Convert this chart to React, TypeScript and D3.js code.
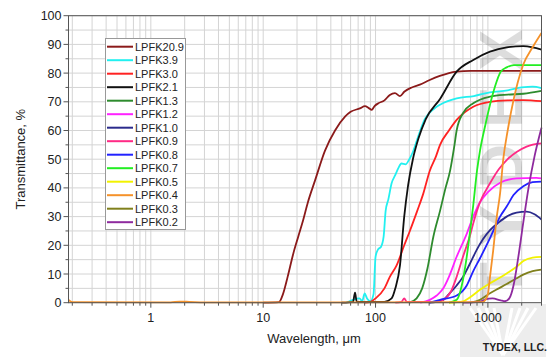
import React from "react";
import * as d3 from "d3";

const W = 554, H = 360;
const X0 = 68.5, X1 = 541.5, Y0 = 15.7, Y1 = 302.7;

const seriesNames = ["LPFK20.9","LPFK3.9","LPFK3.0","LPFK2.1","LPFK1.3","LPFK1.2","LPFK1.0","LPFK0.9","LPFK0.8","LPFK0.7","LPFK0.5","LPFK0.4","LPFK0.3","LPFK0.2"];
const seriesColors = ["#8b1a1a","#22f0f0","#ff2222","#111111","#2e8b2e","#ff22ff","#2b2b8c","#ff2a85","#2222ff","#22ee22","#f2f200","#f5922a","#80801c","#8e2a9e"];

const lpfk20_9: [number, number][] = [[10,0],[13.8,0.2],[15,3],[16.5,9],[18.5,17],[20.5,23],[22.7,28.8],[25,35],[29,42.7],[35.5,53],[43.6,60],[53.5,64.8],[60,66.5],[72.5,67.7],[80.6,68.5],[87,67.8],[92.4,67.2],[98,68.5],[106,69.5],[120,70.5],[134,72.4],[149,73],[165,72],[180,73.5],[210,75],[248,76],[300,77.5],[373,79],[450,80],[527,80.5],[700,80.8],[1000,80.8],[3000,80.8]];
const lpfk3_9: [number, number][] = [[55,0],[72,1.5],[76,0.5],[80,3.2],[84,1.5],[90,0.5],[96,3],[100,16],[105,18.5],[112,19.5],[118,23],[123,32],[130,36],[139,41.6],[150,44.5],[160,47],[170,48.5],[185,48.2],[200,50],[215,52.5],[240,58],[275,64],[330,67.5],[375,69],[527,71.2],[750,72],[1044,73.3],[1500,74],[2000,75],[2500,75.3],[3000,74.8]];
const lpfk3_0: [number, number][] = [[80,0],[90,0.3],[100,1.5],[120,5],[134,9],[154,13],[180,20],[202,25],[235,32],[266,38],[304,46],[345,51],[375,55],[450,60],[527,63.7],[741,68.3],[1044,70],[1500,70.5],[2066,70.6],[3000,70.2]];
const lpfk2_1: [number, number][] = [[50,0],[63,0.3],[65.7,3.5],[68,0.3],[120,0.3],[139,1.5],[150,5],[165,13],[180,30],[195,41],[215,50],[240,57],[280,64],[375,71],[527,80.5],[741,84.6],[1044,87.5],[1469,89],[2066,89.4],[2500,89.0],[3000,88.2]];
const lpfk1_3: [number, number][] = [[200,0],[232,1.5],[260,5],[290,12],[327,23],[375,32],[420,40],[461,46],[500,54],[527,60],[600,66],[741,69.5],[1044,71.8],[1500,72.5],[2066,72.8],[3000,73.8]];
const lpfk1_2: [number, number][] = [[250,0],[304,1],[350,2.5],[401,5],[450,9],[527,16],[648,24],[741,30],[850,35],[1000,38.5],[1283,41.8],[1800,43.3],[2700,43.5],[3000,43.3]];
const lpfk1_0: [number, number][] = [[300,0],[401,1],[450,3],[527,6],[600,9],[700,14],[795,18.4],[900,22],[1044,25.3],[1250,28],[1469,30],[1800,31.4],[2210,31.7],[2600,30.8],[3000,29]];
const lpfk0_9: [number, number][] = [[150,0],[170,0.3],[180,1.5],[190,0.3],[350,0.3],[401,1],[470,4],[527,9],[600,16],[700,24],[741,27.7],[850,35],[1044,41.6],[1250,46.5],[1469,49.7],[1800,52.5],[2210,54.4],[3000,55.5]];
const lpfk0_8: [number, number][] = [[300,0],[375,1],[527,2.5],[648,6],[741,11],[851,15.5],[1044,22.5],[1283,30],[1469,33.5],[1690,37.5],[2066,40.6],[2500,42],[3000,42.2]];
const lpfk0_7: [number, number][] = [[450,0],[527,1],[600,8],[648,16],[700,26],[741,34],[800,46],[851,53],[950,62],[1044,69],[1150,75],[1300,80.5],[1469,82],[1700,82.8],[3000,82.8]];
const lpfk0_5: [number, number][] = [[450,0],[600,0.5],[700,2],[850,4.5],[1044,6.8],[1250,8.5],[1469,10.2],[1800,12.5],[2066,14.5],[2500,15.7],[3000,16]];
const lpfk0_4: [number, number][] = [[0.185,1],[0.2,0.2],[1.5,0.1],[1.8,0.4],[2.2,0.3],[3,0.1],[900,0.2],[950,1],[1000,3],[1044,9],[1113,18],[1200,30],[1283,38],[1370,50],[1500,60],[1690,70.6],[1850,77],[2066,83],[2500,89],[3000,94]];
const lpfk0_3: [number, number][] = [[700,0],[850,1],[1044,3.3],[1250,5],[1469,6.5],[1800,8.5],[2066,9.8],[2500,11],[3000,11.5]];
const lpfk0_2: [number, number][] = [[600,0],[850,0.3],[950,1.2],[1100,1.5],[1300,0.8],[1420,0.5],[1550,1.5],[1690,6],[1850,15],[2066,28],[2300,40],[2600,51],[3000,61]];

const seriesData = [lpfk20_9, lpfk3_9, lpfk3_0, lpfk2_1, lpfk1_3, lpfk1_2, lpfk1_0, lpfk0_9, lpfk0_8, lpfk0_7, lpfk0_5, lpfk0_4, lpfk0_3, lpfk0_2];
const drawOrder = [0, 1, 2, 3, 4, 5, 6, 7, 8, 9, 10, 12, 13, 11];

const xTickLabels = [1, 10, 100, 1000];
const yTickLabels = [0, 10, 20, 30, 40, 50, 60, 70, 80, 90, 100];

export default function App() {
  const x = d3.scaleLog().domain([0.185, 3000]).range([X0, X1]);
  const y = d3.scaleLinear().domain([0, 100]).range([Y1, Y0]);
  const line = d3.line<[number, number]>().x(d => x(d[0])).y(d => y(d[1])).curve(d3.curveMonotoneX);

  const minorX: number[] = [];
  for (let e = -1; e <= 3; e++) {
    for (let m = 1; m <= 9; m++) {
      const v = m * Math.pow(10, e);
      if (v >= 0.185 && v <= 3000) minorX.push(v);
    }
  }
  const gridY = d3.range(0, 101, 5);
  const font = "'Liberation Sans', Arial, sans-serif";

  return (
    <svg width={W} height={H} style={{ position: "absolute", left: 0, top: 0, background: "#fff" }} fontFamily={font}>
      {minorX.map((v, i) => (
        <line key={"gx" + i} x1={x(v)} x2={x(v)} y1={Y0} y2={Y1} stroke="#d4d4d4" strokeWidth={1} />
      ))}
      {gridY.map((v, i) => (
        <line key={"gy" + i} x1={X0} x2={X1} y1={y(v)} y2={y(v)} stroke="#d4d4d4" strokeWidth={1} />
      ))}
      <rect x={460} y={304} width={86} height={53} fill="#ededed" />
      {[0, 1, 2, 3].map(i => (
        <g key={"wm" + i} stroke="#fff" strokeWidth={3}>
          <line x1={470 + i * 8} y1={308} x2={503} y2={355} />
          <line x1={536 - i * 8} y1={308} x2={503} y2={355} />
        </g>
      ))}
      <text transform="translate(522,300) rotate(-90)" fontSize={62} fontWeight="bold" fill="#000" opacity={0.13} letterSpacing={16}>TYDEX</text>
      {drawOrder.map(i => (
        <path key={"s" + i} d={line(seriesData[i]) || ""} fill="none" stroke={seriesColors[i]} strokeWidth={1.8} />
      ))}
      <rect x={X0} y={Y0} width={X1 - X0} height={Y1 - Y0} fill="none" stroke="#555" strokeWidth={1} />
      {gridY.map((v, i) => (
        <line key={"ty" + i} x1={X0} x2={X0 - (v % 10 === 0 ? 5 : 3)} y1={y(v)} y2={y(v)} stroke="#555" />
      ))}
      {yTickLabels.map(v => (
        <text key={"yl" + v} x={X0 - 7} y={y(v) + 4.5} fontSize={12.5} textAnchor="end" fill="#222">{v}</text>
      ))}
      {minorX.map((v, i) => (
        <line key={"tx" + i} x1={x(v)} x2={x(v)} y1={Y1} y2={Y1 + (xTickLabels.includes(v) ? 5 : 3)} stroke="#555" />
      ))}
      {xTickLabels.map(v => (
        <text key={"xl" + v} x={x(v)} y={Y1 + 19} fontSize={12.5} textAnchor="middle" fill="#222">{v}</text>
      ))}
      <text x={314} y={343} fontSize={13} textAnchor="middle" fill="#222">Wavelength, μm</text>
      <text transform={`translate(25,${(Y0 + Y1) / 2}) rotate(-90)`} fontSize={13} textAnchor="middle" fill="#222">Transmittance, %</text>
      <text x={547} y={351} fontSize={10.5} fontWeight="bold" textAnchor="end" fill="#222">TYDEX, LLC.</text>
      <rect x={105.5} y={38.5} width={80} height={191} fill="#fff" stroke="#999" strokeWidth={1} />
      {seriesNames.map((n, i) => (
        <g key={"lg" + i}>
          <line x1={107} x2={133} y1={46.7 + i * 13.5} y2={46.7 + i * 13.5} stroke={seriesColors[i]} strokeWidth={2} />
          <text x={135} y={46.7 + i * 13.5 + 4} fontSize={11} fill="#222">{n}</text>
        </g>
      ))}
    </svg>
  );
}
